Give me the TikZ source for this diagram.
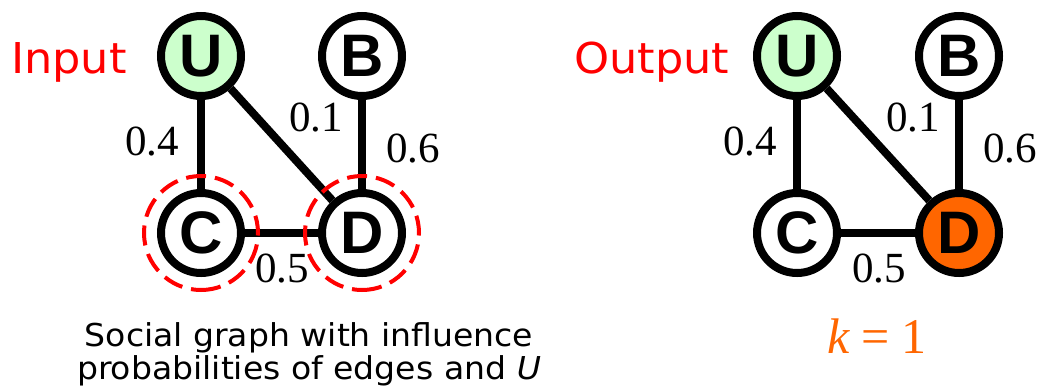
\documentclass[tikz,border=0pt]{standalone}
\usepackage{fontspec}
\setmainfont{Liberation Serif}
\newfontfamily\labfont[FakeStretch=1.05]{DejaVu Sans}
\newfontfamily\vertfont{Liberation Sans}
\usetikzlibrary{backgrounds}
\definecolor{seedgreen}{RGB}{204,255,204}
\definecolor{pickorange}{RGB}{255,102,0}
\begin{document}
\begin{tikzpicture}[x=1pt,y=-1pt,
  vert/.style={circle, draw=black, line width=8pt, minimum size=80pt, inner sep=0pt, fill=white,
    font=\vertfont\bfseries\fontsize{60}{60}\selectfont},
  seedv/.style={vert, fill=seedgreen},
  pickv/.style={vert, fill=pickorange},
  link/.style={line width=8pt},
  prob/.style={font=\fontsize{43}{43}\selectfont, inner sep=0pt},
  cand/.style={circle, draw=red, line width=4pt, dash pattern=on 20pt off 9pt, minimum size=114pt, inner sep=0pt},
  heading/.style={text=red, font=\labfont\fontsize{42.5}{42.5}\selectfont, inner sep=0pt}]
\useasboundingbox (0,0) rectangle (1043,389);
% left graph
\node[seedv] (U1) at (201,56) {U};
\node[vert]  (B1) at (362,56) {B};
\node[vert]  (C1) at (201,233) {C};
\node[vert]  (D1) at (362,233) {D};
% right graph
\node[seedv] (U2) at (797,56) {U};
\node[vert]  (B2) at (959,56) {B};
\node[vert]  (C2) at (797,233) {C};
\node[pickv] (D2) at (959,233) {D};
\begin{scope}[on background layer]
\draw[link] (U1) -- (C1);
\draw[link] (U1) -- (D1);
\draw[link] (B1) -- (D1);
\draw[link] (C1) -- (D1);
\draw[link] (U2) -- (C2);
\draw[link] (U2) -- (D2);
\draw[link] (B2) -- (D2);
\draw[link] (C2) -- (D2);
\end{scope}
\node[cand, rotate=-90] (cC) at (C1) {};
\node[cand, rotate=-90] (cD) at (D1) {};
% probabilities
\node[prob] (p1a) at (152,142) {0.4};
\node[prob] (p1b) at (316,118) {0.1};
\node[prob] (p1c) at (413,149) {0.6};
\node[prob] (p1d) at (282,268) {0.5};
\node[prob] (p2a) at (750,142) {0.4};
\node[prob] (p2b) at (913,118) {0.1};
\node[prob] (p2c) at (1010,149) {0.6};
\node[prob] (p2d) at (879,268) {0.5};
% headings
\node[heading, anchor=base west] (inp) at (11,73) {Input};
\node[heading, anchor=base west] (outp) at (574,73) {Output};
% captions
\node[font=\labfont\fontsize{31.5}{33}\selectfont, align=center, anchor=north, inner sep=0pt] (cap) at (309,322)
  {Social graph with influence\\probabilities of edges and \textit{U}};
\node[text=pickorange, font=\fontsize{50}{50}\selectfont, anchor=base, inner sep=0pt] (kval) at (877,353) {\textit{k}\hspace{0.22em}=\hspace{0.22em}1};
\end{tikzpicture}
\end{document}
